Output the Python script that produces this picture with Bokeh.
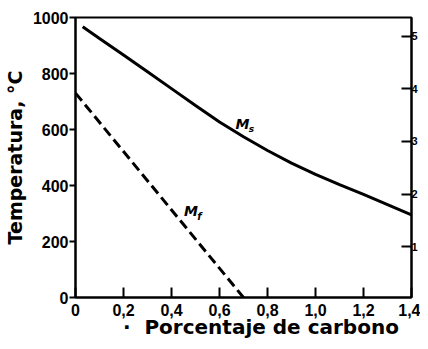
from bokeh.plotting import figure
from bokeh.models import Range1d, LinearAxis, FixedTicker
from bokeh.embed import file_html
from bokeh.resources import INLINE
from bokeh.core.properties import value

# Ms curve (start of martensite)
carbon_ms = [0.03, 0.1, 0.2, 0.3, 0.4, 0.5, 0.6, 0.7, 0.8, 0.9, 1.0, 1.1, 1.2, 1.3, 1.4]
temp_ms = [967, 925, 866, 806, 746, 686, 627, 574, 525, 480, 440, 403, 368, 332, 295]
# Mf line (end of martensite)
carbon_mf = [0.0, 0.7]
temp_mf = [730, 0]

x_ticks = [0, 0.2, 0.4, 0.6, 0.8, 1.0, 1.2, 1.4]
x_tick_labels = ["0", "0,2", "0,4", "0,6", "0,8", "1,0", "1,2", "1,4"]
y_ticks = [0, 200, 400, 600, 800, 1000]
right_ticks = [1, 2, 3, 4, 5]

NB = "\u00a0"
x_title = NB * 5 + "\u00b7" + NB * 2 + "Porcentaje de carbono"
y_title = "Temperatura, °C"

TICK_FONT = "Liberation Sans"
LABEL_FONT = "DejaVu Sans"

p = figure(width=420, height=341, output_backend="svg", toolbar_location=None,
           x_range=Range1d(0, 1.4), y_range=Range1d(0, 1000),
           min_border_top=17, min_border_right=0, min_border_bottom=0, min_border_left=2)
p.grid.visible = False
p.background_fill_color = "white"
p.border_fill_color = "white"
p.outline_line_color = "black"
p.outline_line_width = 2

# x axis
xa = p.xaxis[0]
xa.ticker = FixedTicker(ticks=x_ticks)
xa.major_label_overrides = {t: l for t, l in zip(x_ticks, x_tick_labels)}
xa.axis_label = x_title
xa.axis_label_text_font = LABEL_FONT
xa.axis_label_text_font_style = "bold"
xa.axis_label_text_font_size = "20px"
xa.axis_label_text_color = "black"
xa.axis_label_standoff = -4
xa.major_label_text_font = TICK_FONT
xa.major_label_text_font_style = "bold"
xa.major_label_text_font_size = "16px"
xa.major_label_text_color = "black"
xa.major_label_standoff = 6
xa.major_tick_in = 10
xa.major_tick_out = 0
xa.minor_tick_in = 0
xa.minor_tick_out = 0
xa.axis_line_width = 2
xa.major_tick_line_width = 2

# y axis
ya = p.yaxis[0]
ya.ticker = FixedTicker(ticks=y_ticks)
ya.axis_label = y_title
ya.axis_label_text_font = LABEL_FONT
ya.axis_label_text_font_style = "bold"
ya.axis_label_text_font_size = "19px"
ya.axis_label_text_color = "black"
ya.axis_label_standoff = 4
ya.major_label_text_font = TICK_FONT
ya.major_label_text_font_style = "bold"
ya.major_label_text_font_size = "16px"
ya.major_label_text_color = "black"
ya.major_label_standoff = 1
ya.major_tick_in = 0
ya.major_tick_out = 6
ya.minor_tick_in = 0
ya.minor_tick_out = 0
ya.axis_line_width = 2
ya.major_tick_line_width = 2

# right axis (secondary scale)
p.extra_y_ranges = {"right": Range1d(0.03, 5.36)}
ra = LinearAxis(y_range_name="right", ticker=FixedTicker(ticks=right_ticks))
ra.major_label_text_font = TICK_FONT
ra.major_label_text_font_style = "bold"
ra.major_label_text_font_size = "11px"
ra.major_label_text_color = "black"
ra.major_label_standoff = 0
ra.major_tick_in = 10
ra.major_tick_out = 0
ra.minor_tick_in = 0
ra.minor_tick_out = 0
ra.axis_line_width = 2
ra.major_tick_line_width = 2
p.add_layout(ra, "right")

# curves
p.line(carbon_ms, temp_ms, line_color="black", line_width=3)
p.line(carbon_mf, temp_mf, line_color="black", line_width=3, line_dash="10 5")

# curve labels
p.text(x=[0.667], y=[620], text=["M"], text_font=value(LABEL_FONT),
       text_font_style="bold italic", text_font_size="14px",
       text_baseline="alphabetic", text_align="left", text_color="black")
p.text(x=[0.722], y=[603], text=["s"], text_font=value(LABEL_FONT),
       text_font_style="bold italic", text_font_size="9px",
       text_baseline="alphabetic", text_align="left", text_color="black")
p.text(x=[0.452], y=[308], text=["M"], text_font=value(LABEL_FONT),
       text_font_style="bold italic", text_font_size="14px",
       text_baseline="alphabetic", text_align="left", text_color="black")
p.text(x=[0.507], y=[291], text=["f"], text_font=value(LABEL_FONT),
       text_font_style="bold italic", text_font_size="10px",
       text_baseline="alphabetic", text_align="left", text_color="black")

open("out.html", "w").write(file_html(p, INLINE))
